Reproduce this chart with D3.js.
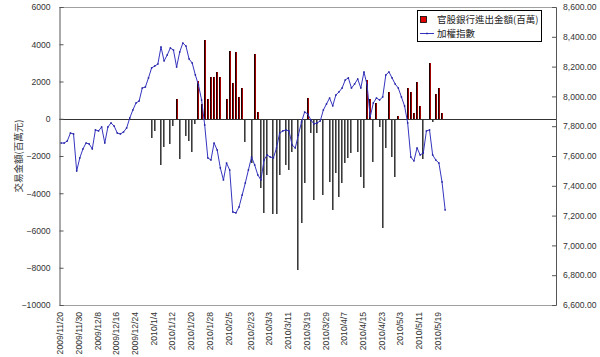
<!DOCTYPE html>
<html><head><meta charset="utf-8">
<script src="https://cdn.jsdelivr.net/npm/d3@7"></script>
<style>body{margin:0;background:#fff}svg{display:block}</style>
</head><body><svg id="c" width="600" height="357"></svg>
<script>
// Trading days (categories), grouped by month
const tradingDays = [
  ["2009/11", [20,23,24,25,26,27,30]],
  ["2009/12", [1,2,3,4,7,8,9,10,11,14,15,16,17,18,21,22,23,24,25,28,29,30,31]],
  ["2010/1", [4,5,6,7,8,11,12,13,14,15,18,19,20,21,22,25,26,27,28,29]],
  ["2010/2", [1,2,3,4,5,6,8,9,10,11,22,23,24,25,26]],
  ["2010/3", [1,2,3,4,5,8,9,10,11,12,15,16,17,18,19,22,23,24,25,26,29,30,31]],
  ["2010/4", [1,2,6,7,8,9,12,13,14,15,16,19,20,21,22,23,26,27,28,29,30]],
  ["2010/5", [3,4,5,6,7,10,11,12,13,14,17,18,19,20,21,24,25,26,27,28,31]],
  ["2010/6", [1,2,3,4,7,8,9,10,11,14,15,17,18,21,22,23,24,25,28,29,30]],
  ["2010/7", [1,2,5,6,7,8,9,12]]
];
const tickLabels = ["2009/11/20","2009/11/30","2009/12/8","2009/12/16","2009/12/24","2010/1/4","2010/1/12","2010/1/20","2010/1/28","2010/2/5","2010/2/23","2010/3/3","2010/3/11","2010/3/19","2010/3/29","2010/4/7","2010/4/15","2010/4/23","2010/5/3","2010/5/11","2010/5/19"];
const leftTicks = [-10000,-8000,-6000,-4000,-2000,0,2000,4000,6000];
const rightTicks = [6600,6800,7000,7200,7400,7600,7800,8000,8200,8400,8600];

// 官股銀行進出金額(百萬), one per trading day from 2009/11/20
const bankFlow = [
  0,0,0,0,0,0,0,0,0,0,
  0,0,0,0,0,0,0,0,0,0,
  0,0,0,0,0,0,0,0,0,-1050,
  -640,0,-2480,-1510,0,-1370,-390,1050,-2180,0,
  -920,-1180,-1800,-300,2030,780,4230,1060,2260,2230,
  2530,2260,0,1050,3660,1910,3570,1190,1670,-1230,
  0,-2390,3460,350,-3730,-5040,-3020,0,-5110,-5110,
  -3020,0,-2480,-2750,-1770,0,-8130,-5580,-3460,1130,
  -780,-4360,-780,0,-4090,0,-3380,-4900,-2930,-4180,
  -3460,-2390,-2120,-1850,0,-1770,-3110,-3730,2080,1050,
  -2300,830,-420,-5880,-1580,1450,-2030,-3110,150,0,
  0,1670,1450,300,1990,690,-2180,0,2980,-190,
  1330,1640,330,0
];
// 加權指數
const taiex = [
  7687,7687,7701,7754,7748,7499,7587,7647,7687,7681,
  7647,7775,7768,7795,7687,7795,7822,7801,7754,7748,
  7761,7788,7855,7909,7956,7969,8056,8063,8124,8191,
  8204,8217,8332,8238,8278,8325,8311,8197,8298,8358,
  8338,8251,8224,8144,8077,7976,7808,7587,7573,7687,
  7640,7520,7439,7553,7506,7224,7218,7258,7338,7419,
  7506,7593,7540,7473,7439,7573,7607,7593,7587,7654,
  7754,7768,7775,7768,7674,7654,7741,7828,7895,7882,
  7842,7815,7822,7835,7909,7949,7989,7936,8009,8030,
  8056,8110,8124,8056,8083,8117,8056,8164,8077,7862,
  7956,7989,7976,7996,8144,8164,8124,8083,8056,7996,
  7936,7822,7593,7567,7654,7607,7620,7768,7775,7607,
  7573,7553,7426,7238
];

const dates = tradingDays.flatMap(([m, ds]) => ds.map(d => `${m}/${d}`));

const svg = d3.select("#c");
const L = 59.5, R = 556, T = 7, B = 305;
const font = "'Liberation Sans', Arial, sans-serif";
const cjk = "'Noto Sans CJK TC', 'Noto Sans CJK SC', sans-serif";

const x = d3.scaleBand().domain(d3.range(dates.length)).range([L, R]);
const cx = i => x(i) + x.bandwidth() / 2;
const yL = d3.scaleLinear().domain([-10000, 6000]).range([B, T]);
const yR = d3.scaleLinear().domain([6600, 8600]).range([B, T]);

// plot frame
svg.append("line").attr("x1", L).attr("x2", R).attr("y1", T + .5).attr("y2", T + .5).attr("stroke", "#a0a0a0");
svg.append("line").attr("x1", L).attr("x2", R).attr("y1", B + .5).attr("y2", B + .5).attr("stroke", "#a0a0a0");

// bars
const bw = 2;
const bars = svg.append("g").attr("shape-rendering", "crispEdges");
bankFlow.forEach((v, i) => {
  if (!v) return;
  const y0 = yL(0), y1 = yL(v);
  const top = Math.min(y0, y1), h = Math.abs(y1 - y0);
  const x0 = Math.round(cx(i) - bw / 2);
  bars.append("rect").attr("x", x0).attr("y", top).attr("width", bw).attr("height", h)
    .attr("fill", v > 0 ? "#a00000" : "#8c8c8c");
  bars.append("rect").attr("x", x0).attr("y", top).attr("width", 1).attr("height", h)
    .attr("fill", v > 0 ? "#200000" : "#3a3a3a");
});

// zero line
svg.append("line").attr("x1", L).attr("x2", R).attr("y1", Math.round(yL(0)) + .5).attr("y2", Math.round(yL(0)) + .5)
  .attr("stroke", "#333");

// index line
const line = d3.line().x((d, i) => cx(i)).y(d => yR(d));
svg.append("path").datum(taiex).attr("d", line).attr("fill", "none").attr("stroke", "#3535c0").attr("stroke-width", 1);
svg.append("g").selectAll("rect").data(taiex).join("rect")
  .attr("x", (d, i) => cx(i) - .75).attr("y", d => yR(d) - .75).attr("width", 1.5).attr("height", 1.5).attr("fill", "#2020a0");

// left axis
const ga = svg.append("g").attr("transform", `translate(${L},0)`)
  .call(d3.axisLeft(yL).tickValues(leftTicks).tickSize(-4).tickPadding(9).tickFormat(d3.format("d")));
ga.select(".domain").attr("stroke", "#555");
ga.selectAll(".tick line").attr("stroke", "#555");
ga.selectAll("text").attr("font-family", font).attr("font-size", "8.6px").attr("fill", "#333");

// right axis
const gr = svg.append("g").attr("transform", `translate(${R},0)`)
  .call(d3.axisRight(yR).tickValues(rightTicks).tickSize(-4).tickPadding(7).tickFormat(d3.format(",.2f")));
gr.select(".domain").attr("stroke", "#555");
gr.selectAll(".tick line").attr("stroke", "#555");
gr.selectAll("text").attr("font-family", font).attr("font-size", "8.6px").attr("fill", "#333");

// x labels
svg.append("g").selectAll("text").data(tickLabels).join("text")
  .attr("transform", d => `translate(${cx(dates.indexOf(d)) - 1},312) rotate(-90)`)
  .attr("text-anchor", "end").attr("dy", "0.35em")
  .attr("font-family", font).attr("font-size", "8.6px").attr("fill", "#333")
  .text(d => d);

// left title
svg.append("text").attr("transform", "translate(18.5,156) rotate(-90)")
  .attr("text-anchor", "middle").attr("dy", "0.35em")
  .attr("font-family", cjk).attr("font-size", "9.5px").attr("fill", "#333")
  .text("交易金額(百萬元)");

// legend
const lg = svg.append("g");
lg.append("rect").attr("x", 417.5).attr("y", 10.5).attr("width", 124).attr("height", 31).attr("fill", "#fff").attr("stroke", "#000");
lg.append("rect").attr("x", 420.5).attr("y", 16.5).attr("width", 6).attr("height", 6).attr("fill", "#e00000").attr("stroke", "#000").attr("stroke-width", .8);
lg.append("text").attr("x", 437).attr("y", 20).attr("dy", "0.35em").attr("font-family", cjk).attr("font-size", "9.5px").attr("fill", "#222").text("官股銀行進出金額(百萬)");
lg.append("line").attr("x1", 420).attr("x2", 434).attr("y1", 33.5).attr("y2", 33.5).attr("stroke", "#3535c0");
lg.append("rect").attr("x", 426.25).attr("y", 32.75).attr("width", 1.5).attr("height", 1.5).attr("fill", "#2020a0");
lg.append("text").attr("x", 437).attr("y", 34).attr("dy", "0.35em").attr("font-family", cjk).attr("font-size", "9.5px").attr("fill", "#222").text("加權指數");
</script></body></html>
